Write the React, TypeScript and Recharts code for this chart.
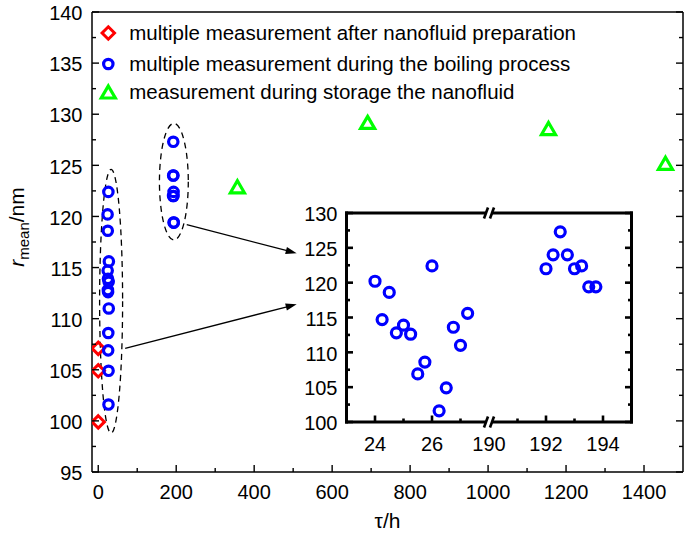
import React from 'react';
import { ScatterChart, Scatter, XAxis, YAxis, ReferenceArea, ReferenceLine, ReferenceDot, Legend } from 'recharts';

const FONT = '"Liberation Sans", Arial, Helvetica, sans-serif';
const RED = '#ff0000';
const BLUE = '#0000ff';
const GREEN = '#00ff00';

// ---- data ----
const prepTau = [0, 0, 0];
const prepR = [107.1, 104.9, 99.9];

const boilTauA = [24, 24.25, 24.5, 24.75, 25, 25.25, 25.5, 25.75, 26, 26.25, 26.5, 26.75, 27, 27.25];
const boilRA = [120.2, 114.7, 118.6, 112.8, 113.9, 112.6, 106.9, 108.6, 122.4, 101.6, 104.9, 113.6, 111.0, 115.6];
const boilTauB = [192, 192.25, 192.5, 192.75, 193, 193.25, 193.5, 193.75];
const boilRB = [122.0, 124.0, 127.3, 124.0, 122.0, 122.4, 119.4, 119.4];

const storTau = [357, 691, 1155, 1455];
const storR = [122.9, 129.2, 128.6, 125.2];

const seriesNames = [
  'multiple measurement after nanofluid preparation',
  'multiple measurement during the boiling process',
  'measurement during storage the nanofluid',
];

// ---- axes ----
const mainXDomain = [-16, 1500];
const mainYDomain = [95, 140];
const mainXTicks = [0, 100, 200, 300, 400, 500, 600, 700, 800, 900, 1000, 1100, 1200, 1300, 1400];
const mainXMajor = [0, 200, 400, 600, 800, 1000, 1200, 1400];
const mainYTicks = [95, 97.5, 100, 102.5, 105, 107.5, 110, 112.5, 115, 117.5, 120, 122.5, 125, 127.5, 130, 132.5, 135, 137.5, 140];
const mainYMajor = [95, 100, 105, 110, 115, 120, 125, 130, 135, 140];

const insetYDomain = [100, 130];
const insetYTicks = [100, 102.5, 105, 107.5, 110, 112.5, 115, 117.5, 120, 122.5, 125, 127.5, 130];
const insetYMajor = [100, 105, 110, 115, 120, 125, 130];
const insetXMajor = [24, 26, 190, 192, 194];
const insetXMinor = [25, 27, 191, 193];
const breakFrom = 28;
const breakTo = 190;
const insetXRange = [23, 195];

// annotations (data space)
const ellipseA = { x: [3.5, 62.5], r: [98.8, 124.6] };
const ellipseB = { x: [157, 231], r: [117.7, 129.1] };
const arrowA = [{ x: 69, y: 107.1 }, { x: 509, y: 111.4 }];
const arrowB = [{ x: 227, y: 119.2 }, { x: 509, y: 116.4 }];

// ---- helpers ----
const toU = (t: number) => (t >= breakTo ? t - (breakTo - breakFrom) : t);
const fromU = (u: number) => (u >= breakFrom - 1e-9 ? u + (breakTo - breakFrom) : u);

const prepData = prepTau.map((x, i) => ({ x, y: prepR[i] }));
const boilTau = boilTauA.concat(boilTauB);
const boilR = boilRA.concat(boilRB);
const boilData = boilTau.map((x, i) => ({ x, y: boilR[i] }));
const storData = storTau.map((x, i) => ({ x, y: storR[i] }));
const insetData = boilTau.map((t, i) => ({ x: toU(t), y: boilR[i] }));
const insetXTicksU = insetXMajor.concat(insetXMinor).map(toU).sort((a, b) => a - b);
const insetXMajorU = insetXMajor.map(toU);

const near = (a: number, b: number) => Math.abs(a - b) < 1e-6;

type Side = 'bottom' | 'top' | 'left' | 'right';
interface TickOpts {
  side: Side;
  majors: number[];
  majorLen: number;
  minorLen: number;
  sw: number;
  labels?: boolean;
  gap?: number;
  fontSize?: number;
  format?: (v: number) => string;
  noMark?: number[];
}

function tickRenderer(o: TickOpts) {
  return (props: any) => {
    const { x, y, payload } = props;
    const v: number = payload.value;
    const major = o.majors.some((m) => near(m, v));
    const len = major ? o.majorLen : o.minorLen;
    const skip = (o.noMark || []).some((m) => near(m, v));
    let line: any = null;
    if (!skip) {
      let x2 = x;
      let y2 = y;
      if (o.side === 'bottom') y2 = y - len;
      if (o.side === 'top') y2 = y + len;
      if (o.side === 'left') x2 = x + len;
      if (o.side === 'right') x2 = x - len;
      line = <line x1={x} y1={y} x2={x2} y2={y2} stroke="#000" strokeWidth={o.sw} />;
    }
    let label: any = null;
    if (o.labels && major) {
      const txt = o.format ? o.format(v) : String(v);
      const fs = o.fontSize || 20;
      if (o.side === 'bottom') {
        label = (
          <text x={x} y={y + (o.gap || 0)} dy="0.36em" textAnchor="middle" fontSize={fs} fontFamily={FONT} fill="#000">
            {txt}
          </text>
        );
      } else if (o.side === 'left') {
        label = (
          <text x={x - (o.gap || 0)} y={y + 1} dy="0.36em" textAnchor="end" fontSize={fs} fontFamily={FONT} fill="#000">
            {txt}
          </text>
        );
      }
    }
    return (
      <g>
        {line}
        {label}
      </g>
    );
  };
}

const diamondShape = (p: any) => {
  const s = 6.2;
  const { cx, cy } = p;
  return (
    <polygon
      points={`${cx},${cy - s} ${cx + s},${cy} ${cx},${cy + s} ${cx - s},${cy}`}
      fill="none"
      stroke={RED}
      strokeWidth={3}
      strokeLinejoin="miter"
    />
  );
};
const circleShape = (r: number) => (p: any) => (
  <circle cx={p.cx} cy={p.cy} r={r} fill="none" stroke={BLUE} strokeWidth={3.2} />
);
const triangleShape = (p: any) => {
  const w = 14;
  const h = 12;
  const { cx, cy } = p;
  return (
    <polygon
      points={`${cx},${cy - h / 2} ${cx + w / 2},${cy + h / 2} ${cx - w / 2},${cy + h / 2}`}
      fill="none"
      stroke={GREEN}
      strokeWidth={3.2}
      strokeLinejoin="miter"
    />
  );
};

const ellipseShape = (p: any) => (
  <ellipse
    cx={p.x + p.width / 2}
    cy={p.y + p.height / 2}
    rx={Math.abs(p.width) / 2}
    ry={Math.abs(p.height) / 2}
    fill="none"
    stroke="#000"
    strokeWidth={1.3}
    strokeDasharray="6 4.5"
  />
);

const arrowShape = (p: any) => {
  const { x1, y1, x2, y2 } = p;
  const dx = x2 - x1;
  const dy = y2 - y1;
  const L = Math.sqrt(dx * dx + dy * dy) || 1;
  const ux = dx / L;
  const uy = dy / L;
  const al = 11;
  const aw = 3.6;
  const bx = x2 - ux * al;
  const by = y2 - uy * al;
  return (
    <g>
      <line x1={x1} y1={y1} x2={bx + ux * 2} y2={by + uy * 2} stroke="#000" strokeWidth={1.3} />
      <polygon
        points={`${x2},${y2} ${bx - uy * aw},${by + ux * aw} ${bx + uy * aw},${by - ux * aw}`}
        fill="#000"
      />
    </g>
  );
};

const breakShape = (p: any) => {
  const { cx, cy } = p;
  return (
    <g>
      <line x1={cx - 5} y1={cy + 5.5} x2={cx - 1} y2={cy - 5.5} stroke="#000" strokeWidth={2.6} />
      <line x1={cx + 1} y1={cy + 5.5} x2={cx + 5} y2={cy - 5.5} stroke="#000" strokeWidth={2.6} />
    </g>
  );
};

const legendMarkers = [
  (cx: number, cy: number) => diamondShape({ cx, cy }),
  (cx: number, cy: number) => circleShape(4.7)({ cx, cy }),
  (cx: number, cy: number) => triangleShape({ cx, cy }),
];
const legendRowY = [18, 49, 77];

const legendContent = () => (
  <svg width={520} height={95} style={{ overflow: 'visible' }}>
    {seriesNames.map((name, i) => (
      <g key={name}>
        {legendMarkers[i](13.3, legendRowY[i])}
        <text x={34.3} y={legendRowY[i] + 7} fontSize={20.5} fontFamily={FONT} fill="#000">
          {name}
        </text>
      </g>
    ))}
  </svg>
);

const xTitle = (props: any) => {
  const vb = props.viewBox || { x: 92, y: 472, width: 591, height: 68 };
  return (
    <text x={vb.x + vb.width / 2} y={vb.y + 56} textAnchor="middle" fontSize={21} fontFamily={FONT} fill="#000">
      τ/h
    </text>
  );
};

const yTitle = (props: any) => {
  const vb = props.viewBox || { x: 0, y: 12, width: 92, height: 460 };
  const cx = vb.x + 23.5;
  const cy = vb.y + vb.height / 2 - 15;
  return (
    <text transform={`translate(${cx},${cy}) rotate(-90)`} textAnchor="middle" fontSize={21} fontFamily={FONT} fill="#000">
      <tspan fontStyle="italic">r</tspan>
      <tspan fontSize={15} dy={5}>
        mean
      </tspan>
      <tspan dy={-5}>/nm</tspan>
    </text>
  );
};

const MAIN_SW = 1.5;

function MainChart() {
  return (
    <ScatterChart width={685} height={540} margin={{ top: 0, right: 0, bottom: 0, left: 0 }}>
      <XAxis
        xAxisId="b"
        type="number"
        dataKey="x"
        orientation="bottom"
        domain={mainXDomain}
        allowDataOverflow
        ticks={mainXTicks}
        interval={0}
        height={68}
        tickSize={0}
        tickMargin={0}
        tickLine={false}
        axisLine={{ stroke: '#000', strokeWidth: MAIN_SW }}
        tick={tickRenderer({ side: 'bottom', majors: mainXMajor, majorLen: 7, minorLen: 4, sw: 1.4, labels: true, gap: 20 })}
        label={xTitle}
      />
      <XAxis
        xAxisId="t"
        type="number"
        orientation="top"
        domain={mainXDomain}
        allowDataOverflow
        ticks={mainXTicks}
        interval={0}
        height={12}
        tickSize={0}
        tickMargin={0}
        tickLine={false}
        axisLine={{ stroke: '#000', strokeWidth: MAIN_SW }}
        tick={tickRenderer({ side: 'top', majors: mainXMajor, majorLen: 7, minorLen: 4, sw: 1.4 })}
      />
      <YAxis
        yAxisId="l"
        type="number"
        dataKey="y"
        orientation="left"
        domain={mainYDomain}
        allowDataOverflow
        ticks={mainYTicks}
        interval={0}
        width={92}
        tickSize={0}
        tickMargin={0}
        tickLine={false}
        axisLine={{ stroke: '#000', strokeWidth: MAIN_SW }}
        tick={tickRenderer({ side: 'left', majors: mainYMajor, majorLen: 7, minorLen: 4, sw: 1.4, labels: true, gap: 9.5 })}
        label={yTitle}
      />
      <YAxis
        yAxisId="r"
        type="number"
        orientation="right"
        domain={mainYDomain}
        allowDataOverflow
        ticks={mainYTicks}
        interval={0}
        width={2}
        tickSize={0}
        tickMargin={0}
        tickLine={false}
        axisLine={{ stroke: '#000', strokeWidth: MAIN_SW }}
        tick={tickRenderer({ side: 'right', majors: mainYMajor, majorLen: 7, minorLen: 4, sw: 1.4 })}
      />
      <ReferenceArea
        xAxisId="b"
        yAxisId="l"
        x1={ellipseA.x[0]}
        x2={ellipseA.x[1]}
        y1={ellipseA.r[0]}
        y2={ellipseA.r[1]}
        ifOverflow="visible"
        shape={ellipseShape}
      />
      <ReferenceArea
        xAxisId="b"
        yAxisId="l"
        x1={ellipseB.x[0]}
        x2={ellipseB.x[1]}
        y1={ellipseB.r[0]}
        y2={ellipseB.r[1]}
        ifOverflow="visible"
        shape={ellipseShape}
      />
      <ReferenceLine xAxisId="b" yAxisId="l" segment={arrowA} ifOverflow="visible" shape={arrowShape} />
      <ReferenceLine xAxisId="b" yAxisId="l" segment={arrowB} ifOverflow="visible" shape={arrowShape} />
      <Scatter
        name={seriesNames[0]}
        xAxisId="b"
        yAxisId="l"
        data={prepData}
        shape={diamondShape}
        isAnimationActive={false}
      />
      <Scatter
        name={seriesNames[1]}
        xAxisId="b"
        yAxisId="l"
        data={boilData}
        shape={circleShape(4.7)}
        isAnimationActive={false}
      />
      <Scatter
        name={seriesNames[2]}
        xAxisId="b"
        yAxisId="l"
        data={storData}
        shape={triangleShape}
        isAnimationActive={false}
      />
      <Legend
        layout="vertical"
        align="center"
        verticalAlign="middle"
        wrapperStyle={{ left: 95, top: 15, width: 520, height: 95 }}
        content={legendContent}
      />
    </ScatterChart>
  );
}

const IN_SW = 3;
const insetGapU = 0.16;

function InsetChart() {
  const uMin = toU(insetXRange[0]);
  const uMax = toU(insetXRange[1]);
  return (
    <ScatterChart width={685} height={540} margin={{ top: 0, right: 0, bottom: 0, left: 0 }}>
      <XAxis
        xAxisId="b"
        type="number"
        dataKey="x"
        orientation="bottom"
        domain={[uMin, uMax]}
        allowDataOverflow
        ticks={insetXTicksU}
        interval={0}
        height={118}
        tickSize={0}
        tickMargin={0}
        tickLine={false}
        axisLine={false}
        tick={tickRenderer({
          side: 'bottom',
          majors: insetXMajorU,
          majorLen: 6.5,
          minorLen: 3.5,
          sw: 2.6,
          labels: true,
          gap: 22,
          format: (u) => String(fromU(u)),
          noMark: [breakFrom],
        })}
      />
      <XAxis
        xAxisId="t"
        type="number"
        orientation="top"
        domain={[uMin, uMax]}
        allowDataOverflow
        ticks={insetXTicksU}
        interval={0}
        height={213}
        tickSize={0}
        tickMargin={0}
        tickLine={false}
        axisLine={false}
        tick={tickRenderer({ side: 'top', majors: insetXMajorU, majorLen: 6.5, minorLen: 3.5, sw: 2.6, noMark: [breakFrom] })}
      />
      <YAxis
        yAxisId="l"
        type="number"
        dataKey="y"
        orientation="left"
        domain={insetYDomain}
        allowDataOverflow
        ticks={insetYTicks}
        interval={0}
        width={346.5}
        tickSize={0}
        tickMargin={0}
        tickLine={false}
        axisLine={{ stroke: '#000', strokeWidth: IN_SW, strokeLinecap: 'square' }}
        tick={tickRenderer({ side: 'left', majors: insetYMajor, majorLen: 6.5, minorLen: 3.5, sw: 2.6, labels: true, gap: 9 })}
      />
      <YAxis
        yAxisId="r"
        type="number"
        orientation="right"
        domain={insetYDomain}
        allowDataOverflow
        ticks={insetYTicks}
        interval={0}
        width={53.5}
        tickSize={0}
        tickMargin={0}
        tickLine={false}
        axisLine={{ stroke: '#000', strokeWidth: IN_SW, strokeLinecap: 'square' }}
        tick={tickRenderer({ side: 'right', majors: insetYMajor, majorLen: 6.5, minorLen: 3.5, sw: 2.6 })}
      />
      <ReferenceLine
        xAxisId="b"
        yAxisId="l"
        segment={[{ x: uMin, y: insetYDomain[1] }, { x: breakFrom - insetGapU, y: insetYDomain[1] }]}
        stroke="#000"
        strokeWidth={IN_SW}
        strokeLinecap="square"
        ifOverflow="visible"
      />
      <ReferenceLine
        xAxisId="b"
        yAxisId="l"
        segment={[{ x: breakFrom + insetGapU, y: insetYDomain[1] }, { x: uMax, y: insetYDomain[1] }]}
        stroke="#000"
        strokeWidth={IN_SW}
        strokeLinecap="square"
        ifOverflow="visible"
      />
      <ReferenceLine
        xAxisId="b"
        yAxisId="l"
        segment={[{ x: uMin, y: insetYDomain[0] }, { x: breakFrom - insetGapU, y: insetYDomain[0] }]}
        stroke="#000"
        strokeWidth={IN_SW}
        strokeLinecap="square"
        ifOverflow="visible"
      />
      <ReferenceLine
        xAxisId="b"
        yAxisId="l"
        segment={[{ x: breakFrom + insetGapU, y: insetYDomain[0] }, { x: uMax, y: insetYDomain[0] }]}
        stroke="#000"
        strokeWidth={IN_SW}
        strokeLinecap="square"
        ifOverflow="visible"
      />
      <ReferenceDot xAxisId="b" yAxisId="l" x={breakFrom} y={insetYDomain[1]} ifOverflow="visible" shape={breakShape} />
      <ReferenceDot xAxisId="b" yAxisId="l" x={breakFrom} y={insetYDomain[0]} ifOverflow="visible" shape={breakShape} />
      <Scatter
        name={seriesNames[1]}
        xAxisId="b"
        yAxisId="l"
        data={insetData}
        shape={circleShape(5)}
        isAnimationActive={false}
      />
    </ScatterChart>
  );
}

export default function App() {
  return (
    <div style={{ position: 'absolute', left: 0, top: 0, width: 685, height: 540, background: '#fff' }}>
      <div style={{ position: 'absolute', left: 0, top: 0 }}>
        <MainChart />
      </div>
      <div style={{ position: 'absolute', left: 0, top: 0, pointerEvents: 'none' }}>
        <InsetChart />
      </div>
    </div>
  );
}
